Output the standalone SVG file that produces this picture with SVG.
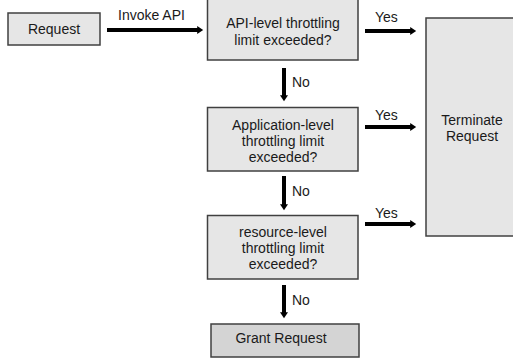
<svg xmlns="http://www.w3.org/2000/svg" width="513" height="358" viewBox="0 0 513 358">
<defs>
<style>
.box{fill:#e6e6e6;stroke:#404040;stroke-width:1.5}
.grant{fill:#d4d4d4;stroke:#404040;stroke-width:1.5}
text{font-family:"Liberation Sans",Arial,sans-serif;font-size:14px;fill:#1a1a1a;text-anchor:middle}
.lbl{text-anchor:start}
.arr{stroke:#000;stroke-width:4;fill:none;marker-end:url(#ah)}
</style>
<marker id="ah" markerWidth="2" markerHeight="2" refX="0.2" refY="1" orient="auto" markerUnits="strokeWidth">
<path d="M0,0 L1.5,1 L0,2 Z" fill="#000"/>
</marker>
</defs>
<rect width="513" height="358" fill="#fff"/>
<g id="connectors">
<line class="arr" x1="107" y1="30" x2="198" y2="30"/>
<text class="lbl" x="118" y="20">Invoke API</text>
<line class="arr" x1="365" y1="31" x2="411" y2="31"/>
<text class="lbl" x="375" y="22">Yes</text>
<line class="arr" x1="284" y1="68" x2="284" y2="96"/>
<text class="lbl" x="292" y="87">No</text>
<line class="arr" x1="365" y1="127" x2="411" y2="127"/>
<text class="lbl" x="375" y="120">Yes</text>
<line class="arr" x1="284" y1="176" x2="284" y2="205"/>
<text class="lbl" x="292" y="196">No</text>
<line class="arr" x1="365" y1="224" x2="411" y2="224"/>
<text class="lbl" x="375" y="218">Yes</text>
<line class="arr" x1="284" y1="285" x2="284" y2="313"/>
<text class="lbl" x="292" y="305">No</text>
</g>
<g id="request">
<rect class="box" x="8" y="13" width="92" height="32"/>
<text x="54" y="34">Request</text>
</g>
<g id="api-check">
<rect class="box" x="207.5" y="-1" width="150.5" height="61"/>
<text x="283" y="28">API-level throttling</text>
<text x="283" y="45">limit exceeded?</text>
</g>
<g id="app-check">
<rect class="box" x="207.5" y="107.5" width="150.5" height="63.5"/>
<text x="283" y="130">Application-level</text>
<text x="283" y="146">throttling limit</text>
<text x="283" y="162">exceeded?</text>
</g>
<g id="resource-check">
<rect class="box" x="207.5" y="215.5" width="150.5" height="63.5"/>
<text x="283" y="237">resource-level</text>
<text x="283" y="253">throttling limit</text>
<text x="283" y="269">exceeded?</text>
</g>
<g id="terminate">
<rect class="box" x="426" y="18" width="92" height="218"/>
<text x="472" y="125">Terminate</text>
<text x="472" y="141">Request</text>
</g>
<g id="grant">
<rect class="grant" x="211" y="324" width="148" height="33"/>
<text x="281" y="343">Grant Request</text>
</g>
</svg>
